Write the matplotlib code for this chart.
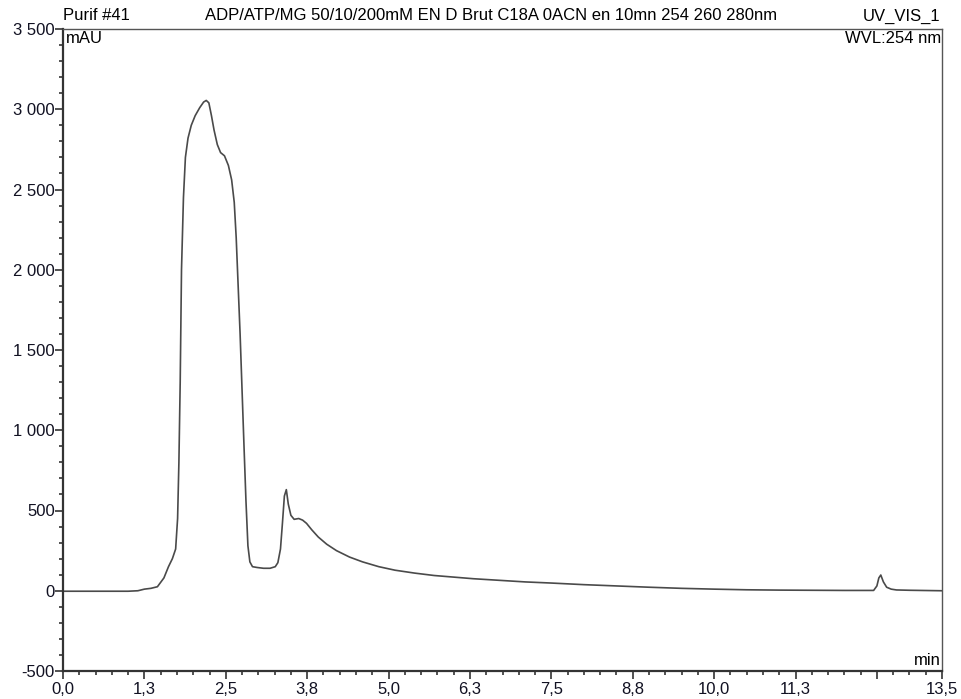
import matplotlib
matplotlib.use("Agg")
import matplotlib.pyplot as plt
from matplotlib.ticker import MultipleLocator, FixedLocator

plt.rcParams['font.family'] = ['Liberation Sans', 'DejaVu Sans']

time_min = [0.0, 0.5, 1.0, 1.15, 1.25, 1.35, 1.45, 1.55, 1.62, 1.68, 1.73, 1.76, 1.78, 1.80,
            1.82, 1.85, 1.88, 1.92, 1.97, 2.03, 2.10, 2.16, 2.20, 2.24, 2.28, 2.32, 2.37, 2.42,
            2.48, 2.54, 2.59, 2.63, 2.66, 2.69, 2.72, 2.75, 2.78, 2.81, 2.84, 2.87, 2.91, 2.98,
            3.08, 3.18, 3.26, 3.30, 3.34, 3.37, 3.40, 3.43, 3.46, 3.50, 3.55, 3.62, 3.68, 3.74,
            3.82, 3.92, 4.05, 4.2, 4.4, 4.6, 4.85, 5.1, 5.4, 5.7, 6.0, 6.3, 6.7, 7.1, 7.5, 8.0,
            8.5, 9.0, 9.5, 10.0, 10.5, 11.0, 11.5, 12.0, 12.45, 12.50, 12.53, 12.56, 12.60,
            12.65, 12.72, 12.8, 13.0, 13.5]
absorbance_mau = [-3, -3, -3, 0, 10, 15, 25, 80, 150, 200, 260, 450, 800, 1300,
                  2000, 2450, 2700, 2820, 2900, 2960, 3010, 3045, 3055, 3040, 2960, 2870, 2780, 2730,
                  2710, 2650, 2560, 2420, 2200, 1900, 1600, 1250, 900, 560, 280, 180, 150, 145,
                  140, 140, 150, 175, 260, 420, 590, 630, 540, 470, 445, 450, 440, 420,
                  380, 335, 290, 250, 210, 180, 150, 128, 110, 95, 85, 75, 65, 55, 48, 38,
                  30, 22, 15, 10, 6, 4, 3, 2, 2, 30, 80, 98, 55,
                  22, 10, 5, 3, 0]

x_ticks = [0.0, 1.25, 2.5, 3.75, 5.0, 6.25, 7.5, 8.75, 10.0, 11.25, 12.5, 13.5]
x_labels = ['0,0', '1,3', '2,5', '3,8', '5,0', '6,3', '7,5', '8,8', '10,0', '11,3', '', '13,5']
y_ticks = [-500, 0, 500, 1000, 1500, 2000, 2500, 3000, 3500]
y_labels = ['-500', '0', '500', '1 000', '1 500', '2 000', '2 500', '3 000', '3 500']

fig = plt.figure(figsize=(9.61, 6.99), dpi=100)
ax = fig.add_axes([63/961, 1-671/699, (942-63)/961, (671-29)/699])

ax.plot(time_min, absorbance_mau, color='#4a4a4a', lw=1.2)
ax.set_xlim(0, 13.5)
ax.set_ylim(-500, 3500)

ax.xaxis.set_major_locator(FixedLocator(x_ticks))
ax.set_xticklabels(x_labels)
ax.xaxis.set_minor_locator(MultipleLocator(0.25))
ax.yaxis.set_major_locator(FixedLocator(y_ticks))
ax.set_yticklabels(y_labels)
ax.yaxis.set_minor_locator(MultipleLocator(100))

ax.tick_params(axis='both', which='major', length=6, width=1.2, color='#333333',
               labelsize=12, labelcolor='#111122')
ax.tick_params(axis='x', which='major', pad=2)
ax.tick_params(axis='y', which='major', pad=0)
ax.tick_params(axis='both', which='minor', length=3, width=1.2, color='#333333')

for s in ['left', 'bottom']:
    ax.spines[s].set_linewidth(1.6)
    ax.spines[s].set_color('#333333')
for s in ['top', 'right']:
    ax.spines[s].set_linewidth(1.0)
    ax.spines[s].set_color('#555555')

ax.text(0.003, 0.997, 'mAU', transform=ax.transAxes, ha='left', va='top', fontsize=12)
ax.text(0.999, 0.997, 'WVL:254 nm', transform=ax.transAxes, ha='right', va='top', fontsize=12)
ax.text(0.999, 0.004, 'min', transform=ax.transAxes, ha='right', va='bottom', fontsize=12)

fig.text(63/961, 1-16/699, 'Purif #41', ha='left', va='center', fontsize=12)
fig.text(491/961, 1-16/699, 'ADP/ATP/MG 50/10/200mM EN D Brut C18A 0ACN en 10mn 254 260 280nm',
         ha='center', va='center', fontsize=12)
fig.text(940/961, 1-16/699, 'UV_VIS_1', ha='right', va='center', fontsize=12)

fig.savefig('out.png', dpi=100)
